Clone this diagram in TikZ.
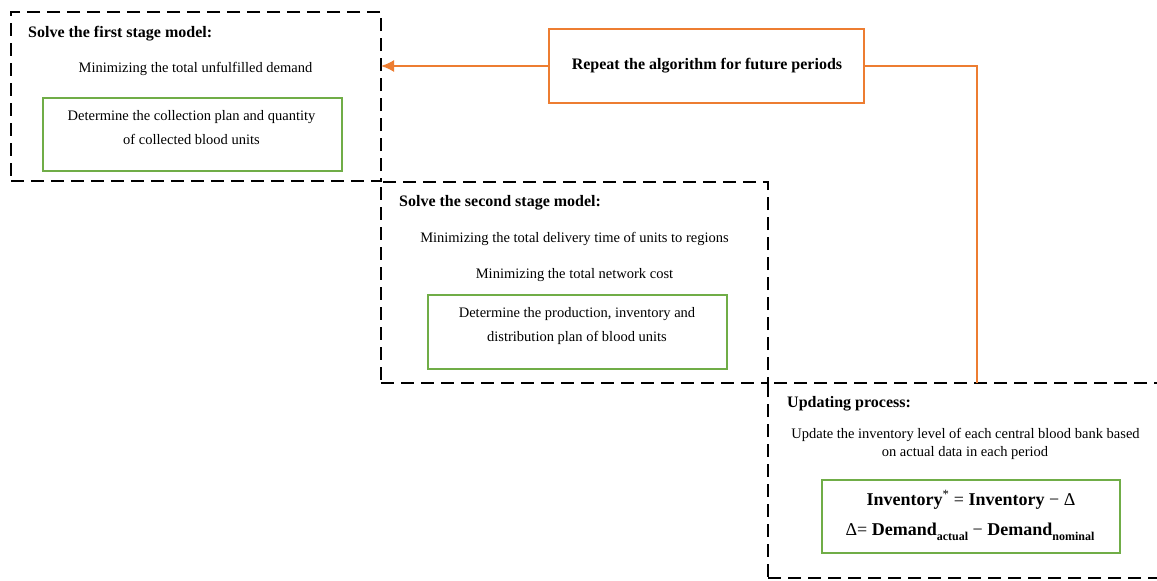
\documentclass[tikz,border=0pt]{standalone}
\usepackage{fontspec}
\setmainfont{Liberation Serif}
\usetikzlibrary{arrows.meta}
\definecolor{orangeC}{RGB}{237,125,49}
\definecolor{greenC}{RGB}{112,173,71}
\newcommand{\subb}[1]{\raisebox{-0.28em}{\fontsize{12}{12}\selectfont\bfseries #1}}
\begin{document}
\begin{tikzpicture}[x=1pt,y=-1pt,
  stagebox/.style={draw=black, line width=1.8pt, dash pattern=on 13pt off 7pt, anchor=north west, inner sep=0pt, outer sep=0pt},
  greenbox/.style={draw=greenC, line width=1.8pt, anchor=north west, inner sep=0pt, outer sep=0pt},
  orangebox/.style={draw=orangeC, line width=1.8pt, anchor=north west, inner sep=0pt, outer sep=0pt},
  head/.style={font=\fontsize{16}{19}\selectfont\bfseries, anchor=base west, inner sep=0pt},
  body/.style={font=\fontsize{14.5}{17}\selectfont, anchor=base, inner sep=0pt},
  formula/.style={font=\fontsize{18}{21}\selectfont, anchor=base, inner sep=0pt},
  link/.style={draw=orangeC, line width=1.8pt},
]
\useasboundingbox (0,0) rectangle (1157,581);
\clip (0,0) rectangle (1157,581);
\fill[white] (0,0) rectangle (1157,581);

% stage boxes
\node[stagebox, minimum width=370pt, minimum height=169pt] (box1) at (11,12) {};
\node[stagebox, minimum width=387pt, minimum height=201pt] (box2) at (381,182) {};
\node[stagebox, minimum width=402pt, minimum height=195pt] (box3) at (768,383) {};

% green boxes
\node[greenbox, minimum width=299pt, minimum height=73pt] (g1) at (43,98) {};
\node[greenbox, minimum width=299pt, minimum height=74pt] (g2) at (428,295) {};
\node[greenbox, minimum width=298pt, minimum height=73pt] (g3) at (822,480) {};

% orange box
\node[orangebox, minimum width=315pt, minimum height=74pt] (rep) at (549,29) {};
\node[font=\fontsize{16}{19}\selectfont\bfseries, anchor=base, inner sep=0pt] (reptxt) at (707,69.3) {Repeat the algorithm for future periods};

% box 1 text
\node[head] (h1) at (28,37) {Solve the first stage model:};
\node[body] (t1a) at (195.5,72.7) {Minimizing the total unfulfilled demand};
\node[body] (t1b) at (191.5,120.7) {Determine the collection plan and quantity};
\node[body] (t1c) at (191.5,144) {of collected blood units};

% box 2 text
\node[head] (h2) at (399,206.7) {Solve the second stage model:};
\node[body] (t2a) at (574.5,242.7) {Minimizing the total delivery time of units to regions};
\node[body] (t2b) at (574.5,278.3) {Minimizing the total network cost};
\node[body] (t2c) at (577,317.7) {Determine the production, inventory and};
\node[body] (t2d) at (577,341.7) {distribution plan of blood units};

% box 3 text
\node[head] (h3) at (787,407.7) {Updating process:};
\node[body] (t3a) at (965.5,438.3) {Update the inventory level of each central blood bank based};
\node[body] (t3b) at (965,456) {on actual data in each period};
\node[formula] (f1) at (971,505) {\textbf{Inventory}\textsuperscript{*} = \textbf{Inventory} − Δ};
\node[formula] (f2) at (970,535) {Δ= \textbf{Demand}\subb{actual} − \textbf{Demand}\subb{nominal}};

% connectors
\coordinate (join) at (977,383);
\draw[link, -{Latex[length=13pt, width=12pt]}] (rep.west) -- (rep.west -| box1.east);
\draw[link] (rep.east) -| (join);
\end{tikzpicture}
\end{document}
